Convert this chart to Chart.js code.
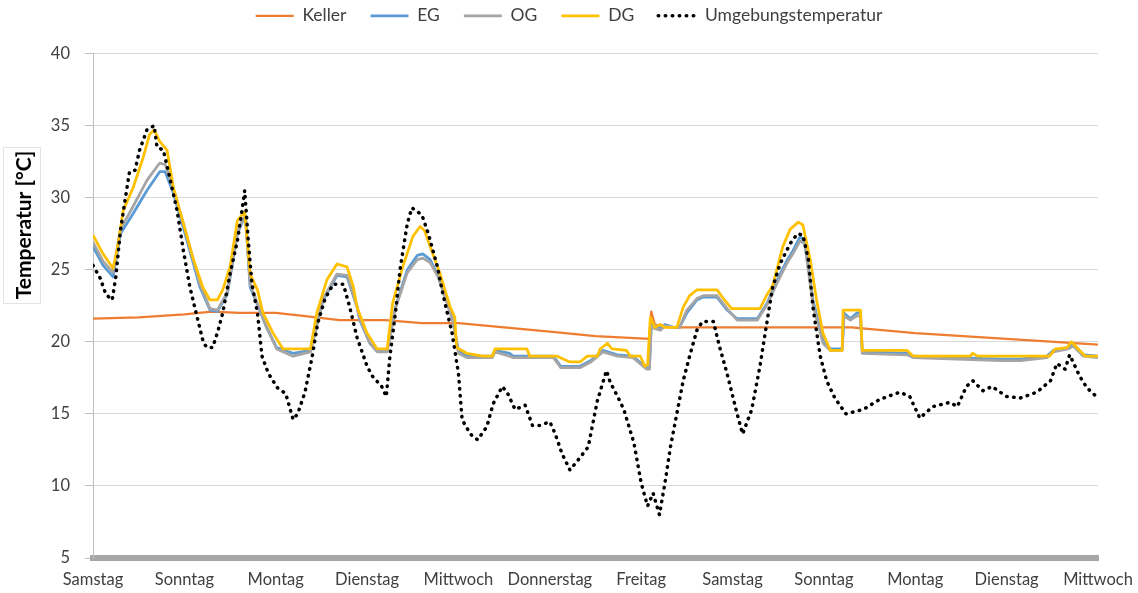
<!DOCTYPE html>
<html lang="de">
<head>
<meta charset="utf-8">
<title>Temperaturverlauf</title>
<script src="https://cdn.jsdelivr.net/npm/chart.js@4.4.1/dist/chart.umd.min.js"></script>
<style>
    html, body { margin: 0; padding: 0; background: #fff; }
    #chartWrapper { width: 1138px; height: 593px; position: relative; }
</style>
</head>
<body>
<div id="chartWrapper"><canvas id="trendChart"></canvas></div>
<script>
// Beschriftung der x-Achse (je ein Tag)
const DAY_LABELS = ['Samstag', 'Sonntag', 'Montag', 'Dienstag', 'Mittwoch', 'Donnerstag',
    'Freitag', 'Samstag', 'Sonntag', 'Montag', 'Dienstag', 'Mittwoch'];
const Y_TITLE = 'Temperatur [°C]';

// Keller
const KELLER_DAYS = [0.00, 0.50, 1.00, 1.30, 1.60, 2.00, 2.30, 2.70, 3.20, 3.60, 4.00, 4.50, 5.00,
    5.50, 6.09, 6.11, 6.15, 6.30, 8.30, 9.00, 10.00, 11.00];
const KELLER_VALUES = [21.6, 21.7, 21.9, 22.1, 22.0, 22.0, 21.8, 21.5, 21.5, 21.3, 21.3, 21.0, 20.7,
    20.4, 20.2, 22.1, 21.2, 21.0, 21.0, 20.6, 20.2, 19.8];

// EG und OG (gleiche Zeitpunkte)
const EG_DAYS = [
    0.00, 0.11, 0.22, 0.30, 0.44, 0.59, 0.73, 0.79, 0.88, 1.03,
    1.17, 1.28, 1.36, 1.47, 1.58, 1.64, 1.67, 1.72, 1.90, 2.01,
    2.19, 2.38, 2.52, 2.67, 2.78, 2.89, 2.92, 3.03, 3.11, 3.22,
    3.31, 3.44, 3.55, 3.61, 3.69, 3.77, 3.88, 3.94, 4.00, 4.09,
    4.37, 4.40, 4.56, 4.60, 5.04, 5.12, 5.33, 5.45, 5.58, 5.74,
    5.91, 6.06, 6.09, 6.11, 6.21, 6.26, 6.35, 6.42, 6.50, 6.61,
    6.68, 6.83, 6.94, 7.05, 7.27, 7.38, 7.49, 7.60, 7.66, 7.74,
    7.79, 7.88, 7.99, 8.07, 8.20, 8.22, 8.29, 8.36, 8.40, 8.42,
    8.91, 8.98, 9.93, 10.15, 10.44, 10.51, 10.67, 10.73, 10.84, 11.00];
const EG_VALUES = [
    26.6, 25.3, 24.5, 27.5, 28.9, 30.5, 31.8, 31.8, 30.3, 27.0,
    23.8, 22.2, 22.1, 23.3, 27.5, 28.4, 28.6, 23.8, 21.0, 19.6,
    19.2, 19.4, 22.9, 24.6, 24.5, 22.4, 21.5, 19.9, 19.4, 19.4,
    22.4, 25.0, 26.0, 26.1, 25.7, 24.7, 22.7, 21.5, 19.4, 19.0,
    19.0, 19.4, 19.2, 19.0, 19.0, 18.3, 18.3, 18.7, 19.4, 19.1,
    19.0, 18.2, 18.2, 21.3, 20.9, 21.2, 21.0, 21.0, 22.0, 22.9,
    23.1, 23.1, 22.2, 21.6, 21.6, 22.7, 24.3, 25.7, 26.3, 27.3,
    27.0, 22.9, 20.1, 19.5, 19.5, 22.0, 21.6, 22.0, 22.0, 19.3,
    19.2, 19.0, 18.8, 18.8, 19.0, 19.4, 19.6, 19.8, 19.1, 19.0];
const OG_VALUES = [
    26.9, 25.6, 24.8, 27.8, 29.4, 31.2, 32.4, 32.3, 30.6, 27.3,
    24.0, 22.3, 22.2, 23.4, 27.6, 28.5, 28.7, 24.0, 21.0, 19.5,
    19.0, 19.3, 23.0, 24.7, 24.6, 22.5, 21.6, 19.9, 19.3, 19.3,
    22.3, 24.8, 25.7, 25.8, 25.5, 24.6, 22.6, 21.4, 19.2, 18.9,
    18.9, 19.3, 19.0, 18.9, 18.9, 18.2, 18.2, 18.6, 19.3, 19.0,
    18.9, 18.1, 18.1, 21.0, 20.8, 21.1, 21.0, 21.0, 22.2, 23.0,
    23.2, 23.2, 22.3, 21.5, 21.5, 22.6, 24.1, 25.5, 26.1, 27.0,
    26.8, 22.6, 19.9, 19.4, 19.4, 21.8, 21.5, 21.8, 21.8, 19.2,
    19.1, 18.9, 18.7, 18.7, 18.9, 19.3, 19.5, 19.7, 19.0, 18.9];

// DG
const DG_DAYS = [
    0.00, 0.11, 0.22, 0.27, 0.33, 0.44, 0.55, 0.62, 0.67, 0.73,
    0.81, 0.88, 0.99, 1.09, 1.20, 1.28, 1.36, 1.42, 1.50, 1.58,
    1.63, 1.66, 1.72, 1.80, 1.86, 1.97, 2.08, 2.38, 2.45, 2.56,
    2.67, 2.78, 2.85, 2.89, 3.00, 3.11, 3.22, 3.28, 3.39, 3.50,
    3.58, 3.63, 3.69, 3.80, 3.91, 3.96, 3.98, 4.09, 4.27, 4.37,
    4.40, 4.75, 4.78, 5.08, 5.22, 5.33, 5.41, 5.52, 5.55, 5.63,
    5.68, 5.84, 5.88, 5.99, 6.04, 6.07, 6.10, 6.15, 6.21, 6.26,
    6.39, 6.46, 6.53, 6.61, 6.83, 6.90, 6.99, 7.30, 7.38, 7.44,
    7.55, 7.63, 7.72, 7.77, 7.85, 7.92, 7.99, 8.07, 8.20, 8.21,
    8.40, 8.42, 8.91, 8.98, 9.60, 9.63, 9.68, 10.47, 10.53, 10.66,
    10.71, 10.80, 10.86, 11.00];
const DG_VALUES = [
    27.4, 26.1, 25.1, 26.6, 29.1, 30.7, 32.8, 34.4, 34.7, 33.9,
    33.3, 30.7, 28.2, 25.9, 23.8, 22.9, 22.9, 23.6, 25.2, 28.4,
    28.8, 29.0, 24.7, 23.6, 22.0, 20.6, 19.5, 19.5, 22.0, 24.3,
    25.4, 25.2, 23.8, 22.4, 20.6, 19.5, 19.5, 22.7, 25.2, 27.3,
    28.0, 27.7, 26.6, 24.7, 22.4, 21.7, 19.6, 19.2, 19.0, 19.0,
    19.5, 19.5, 19.0, 19.0, 18.6, 18.6, 19.0, 19.0, 19.5, 19.9,
    19.5, 19.4, 19.0, 19.0, 18.3, 18.4, 21.7, 21.0, 21.2, 21.0,
    21.0, 22.4, 23.2, 23.6, 23.6, 23.0, 22.3, 22.3, 23.3, 23.9,
    26.6, 27.8, 28.3, 28.1, 25.7, 22.9, 20.6, 19.4, 19.4, 22.2,
    22.2, 19.4, 19.4, 19.0, 19.0, 19.2, 19.0, 19.0, 19.5, 19.6,
    20.0, 19.4, 19.0, 19.0];

// Umgebungstemperatur
const AMBIENT_DAYS = [
    0.00, 0.08, 0.14, 0.21, 0.25, 0.30, 0.35, 0.40, 0.46, 0.51,
    0.59, 0.67, 0.70, 0.77, 0.84, 0.92, 0.99, 1.06, 1.14, 1.21,
    1.25, 1.31, 1.37, 1.42, 1.50, 1.58, 1.63, 1.66, 1.70, 1.74,
    1.80, 1.85, 1.92, 2.02, 2.11, 2.19, 2.24, 2.32, 2.40, 2.46,
    2.54, 2.63, 2.74, 2.81, 2.89, 3.00, 3.06, 3.16, 3.21, 3.25,
    3.31, 3.36, 3.44, 3.49, 3.60, 3.67, 3.77, 3.83, 3.93, 4.00,
    4.04, 4.13, 4.21, 4.31, 4.38, 4.48, 4.54, 4.62, 4.73, 4.81,
    4.89, 5.00, 5.06, 5.13, 5.22, 5.31, 5.42, 5.52, 5.62, 5.66,
    5.75, 5.81, 5.92, 6.00, 6.07, 6.13, 6.20, 6.26, 6.32, 6.39,
    6.46, 6.53, 6.61, 6.67, 6.79, 6.86, 6.94, 7.05, 7.11, 7.21,
    7.30, 7.38, 7.44, 7.52, 7.63, 7.71, 7.77, 7.83, 7.88, 7.96,
    8.03, 8.12, 8.24, 8.43, 8.61, 8.83, 8.94, 9.05, 9.19, 9.38,
    9.46, 9.56, 9.63, 9.74, 9.84, 10.00, 10.15, 10.33, 10.48, 10.55,
    10.64, 10.69, 10.80, 10.88, 11.00];
const AMBIENT_VALUES = [
    25.3, 24.4, 23.3, 22.9, 24.5, 27.7, 29.8, 31.8, 31.9, 33.3,
    34.7, 35.0, 33.5, 33.3, 31.4, 29.1, 26.3, 23.8, 21.7, 19.9,
    19.6, 19.6, 20.8, 22.0, 24.7, 27.0, 29.1, 30.5, 27.0, 24.0,
    22.0, 19.0, 17.8, 16.8, 16.4, 14.6, 15.0, 16.5, 19.0, 21.3,
    23.0, 24.0, 24.0, 22.4, 20.3, 18.3, 17.6, 16.9, 16.2, 19.0,
    22.0, 25.0, 28.2, 29.3, 28.8, 27.5, 25.2, 23.3, 20.6, 17.8,
    14.6, 13.6, 13.2, 14.1, 15.7, 16.9, 16.4, 15.3, 15.6, 14.2,
    14.2, 14.45, 13.6, 12.3, 11.1, 11.8, 12.7, 15.9, 18.0, 17.2,
    16.1, 15.3, 13.0, 10.2, 8.6, 9.5, 8.0, 10.2, 12.7, 15.0,
    17.3, 19.0, 20.8, 21.4, 21.4, 19.6, 17.8, 15.0, 13.6, 15.3,
    18.3, 21.5, 23.8, 25.4, 26.8, 27.5, 27.4, 25.7, 22.4, 19.0,
    17.3, 16.1, 15.0, 15.3, 16.0, 16.5, 16.2, 14.7, 15.5, 15.8,
    15.5, 16.9, 17.3, 16.6, 16.9, 16.2, 16.1, 16.5, 17.3, 18.5,
    18.1, 19.1, 17.6, 16.8, 16.1];

const Y_MIN = 5;
const Y_MAX = 40;
const Y_STEP = 5;

function toPoints(days, values) {
    return days.map((d, i) => ({ x: d, y: values[i] }));
}

// Legende etwas nach oben schieben, Abstand zum Diagramm behalten
const legendShift = {
    id: 'legendShift',
    beforeInit(chart) {
        const origFit = chart.legend.fit;
        chart.legend.fit = function () {
            origFit.call(this);
            this.height += 2;
        };
    },
    afterLayout(chart) {
        chart.legend.top -= 17;
        chart.legend.bottom -= 17;
    }
};

// Achsentitel im Rahmen wie im Original
const axisTitleBox = {
    id: 'axisTitleBox',
    afterDraw(chart) {
        const c = chart.ctx;
        c.save();
        c.strokeStyle = '#e4e4e4';
        c.lineWidth = 1;
        c.strokeRect(3.5, 147.5, 37, 156);
        c.translate(24, 225);
        c.rotate(-Math.PI / 2);
        c.font = 'bold 21px Lato, "Open Sans", sans-serif';
        c.fillStyle = '#000';
        c.textAlign = 'center';
        c.textBaseline = 'middle';
        c.fillText(Y_TITLE, 0, 0);
        c.restore();
    }
};

Chart.defaults.font.family = 'Lato, "Open Sans", sans-serif';
Chart.defaults.color = '#404040';

const ctx = document.getElementById('trendChart').getContext('2d');
new Chart(ctx, {
    type: 'line',
    data: {
        datasets: [
            { label: 'Keller', data: toPoints(KELLER_DAYS, KELLER_VALUES),
              borderColor: '#ED7D31', backgroundColor: '#ED7D31', borderWidth: 2.25, order: 4 },
            { label: 'EG', data: toPoints(EG_DAYS, EG_VALUES),
              borderColor: '#5B9BD5', backgroundColor: '#5B9BD5', borderWidth: 2.75, order: 3 },
            { label: 'OG', data: toPoints(EG_DAYS, OG_VALUES),
              borderColor: '#A5A5A5', backgroundColor: '#A5A5A5', borderWidth: 2.75, order: 2 },
            { label: 'DG', data: toPoints(DG_DAYS, DG_VALUES),
              borderColor: '#FFC000', backgroundColor: '#FFC000', borderWidth: 2.75, order: 1 },
            { label: 'Umgebungstemperatur', data: toPoints(AMBIENT_DAYS, AMBIENT_VALUES),
              borderColor: '#000000', backgroundColor: '#000000', borderWidth: 3.5,
              borderDash: [0.5, 6.5], borderCapStyle: 'round', order: 0 }
        ]
    },
    options: {
        responsive: true,
        maintainAspectRatio: false,
        animation: false,
        elements: {
            point: { radius: 0, hoverRadius: 0 },
            line: { tension: 0, borderJoinStyle: 'round' }
        },
        layout: { padding: 0 },
        scales: {
            x: {
                type: 'linear',
                min: 0,
                max: DAY_LABELS.length - 1,
                afterFit: (scale) => {
                    scale.height = 35;
                    scale.paddingRight = 40;
                },
                grid: { display: true, color: 'transparent', drawTicks: false },
                border: { display: true, color: '#a6a6a6', width: 6 },
                ticks: {
                    stepSize: 1,
                    autoSkip: false,
                    maxRotation: 0,
                    padding: 12,
                    font: { size: 16.5 },
                    callback: (v) => DAY_LABELS[v] || ''
                }
            },
            y: {
                min: Y_MIN,
                max: Y_MAX,
                afterFit: (scale) => { scale.width = 93; },
                grid: { color: '#d9d9d9', tickColor: '#bfbfbf', tickLength: 8 },
                border: { display: true, color: '#bfbfbf', width: 1 },
                ticks: { stepSize: Y_STEP, padding: 15, font: { size: 16.5 } },
                title: { display: false }
            }
        },
        plugins: {
            tooltip: { enabled: false },
            legend: {
                position: 'top',
                labels: {
                    usePointStyle: true,
                    pointStyle: 'line',
                    pointStyleWidth: 38,
                    padding: 24,
                    font: { size: 17.5 },
                    sort: (a, b) => a.datasetIndex - b.datasetIndex,
                    generateLabels: (chart) => {
                        const items = Chart.defaults.plugins.legend.labels.generateLabels(chart);
                        return items.map((item) => {
                            const ds = chart.data.datasets[item.datasetIndex];
                            item.strokeStyle = ds.borderColor;
                            item.lineWidth = ds.borderWidth;
                            item.lineDash = ds.borderDash || [];
                            item.lineCap = ds.borderCapStyle || 'butt';
                            return item;
                        });
                    }
                }
            }
        }
    },
    plugins: [legendShift, axisTitleBox]
});
</script>
</body>
</html>
